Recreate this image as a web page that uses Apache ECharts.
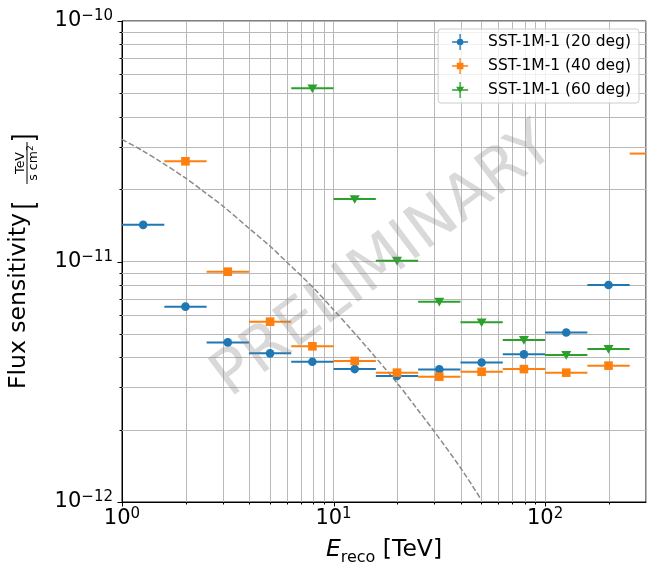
<!DOCTYPE html>
<html><head><meta charset="utf-8">
<script src="https://cdn.jsdelivr.net/npm/echarts@6/dist/echarts.min.js"></script>
<style>html,body{margin:0;padding:0;background:#fff}#c{width:651px;height:572px}</style>
</head><body><div id="c"></div>
<script>
// ---- data ----
const BIN_LO     = [1.000, 1.585, 2.512, 3.981, 6.310, 10.00, 15.85, 25.12, 39.81, 63.10, 100.0, 158.5, 251.2];
const BIN_HI     = [1.585, 2.512, 3.981, 6.310, 10.00, 15.85, 25.12, 39.81, 63.10, 100.0, 158.5, 251.2, 398.1];
const BIN_CENTER = [1.259, 1.995, 3.162, 5.012, 7.943, 12.59, 19.95, 31.62, 50.12, 79.43, 125.9, 199.5, 316.2];
const SENS_20 = [1.42e-11, 6.49e-12, 4.61e-12, 4.15e-12, 3.83e-12, 3.57e-12, 3.34e-12, 3.56e-12, 3.80e-12, 4.11e-12, 5.07e-12, 7.98e-12, null];
const SENS_40 = [null, 2.61e-11, 9.07e-12, 5.62e-12, 4.44e-12, 3.86e-12, 3.45e-12, 3.32e-12, 3.48e-12, 3.57e-12, 3.45e-12, 3.69e-12, 2.81e-11];
const SENS_60 = [null, null, null, null, 5.25e-11, 1.82e-11, 1.008e-11, 6.81e-12, 5.59e-12, 4.72e-12, 4.09e-12, 4.33e-12, null];
const CRAB_E    = [1, 1.25, 1.5, 2, 2.5, 3, 4, 5, 6, 8, 10, 12, 15, 20, 25, 30, 40, 50];
const CRAB_FLUX = [3.22e-11, 2.89e-11, 2.62e-11, 2.22e-11, 1.92e-11, 1.70e-11, 1.37e-11, 1.16e-11, 9.96e-12, 7.8e-12, 6.3e-12, 5.27e-12, 4.21e-12, 3.12e-12, 2.42e-12, 1.96e-12, 1.38e-12, 1.02e-12];
const SERIES_NAMES = ['SST-1M-1 (20 deg)', 'SST-1M-1 (40 deg)', 'SST-1M-1 (60 deg)'];
const X_MAJOR = [1, 10, 100];
const X_MINOR = [2, 3, 4, 5, 6, 7, 8, 9, 20, 30, 40, 50, 60, 70, 80, 90, 200];
const Y_MAJOR = [1e-12, 1e-11, 1e-10];
const Y_MINOR = [2e-12, 3e-12, 4e-12, 5e-12, 6e-12, 7e-12, 8e-12, 9e-12, 2e-11, 3e-11, 4e-11, 5e-11, 6e-11, 7e-11, 8e-11, 9e-11];
const X_MIN = 1, X_MAX = 300, Y_MIN = 1e-12, Y_MAX = 1e-10;

// ---- styling ----
const FONT = 'DejaVu Sans';
const COLORS = ['#1f77b4', '#ff7f0e', '#2ca02c'];
const SHAPES = ['circle', 'square', 'triangle'];
const GRID_COLOR = '#b9b9b9';

function markerEl(shape, x, y, color) {
  if (shape === 'circle') return {type: 'circle', shape: {cx: x, cy: y, r: 4.3}, style: {fill: color}};
  if (shape === 'square') return {type: 'rect', shape: {x: x - 4.3, y: y - 4.3, width: 8.6, height: 8.6}, style: {fill: color}};
  return {type: 'polygon', shape: {points: [[x - 5, y - 3.8], [x + 5, y - 3.8], [x, y + 4.8]]}, style: {fill: color}};
}
function errRender(shape, color) {
  return function (params, api) {
    const cs = params.coordSys;
    const y = api.value(2);
    const a = api.coord([api.value(0), y]);
    const b = api.coord([api.value(1), y]);
    const c = api.coord([api.value(3), y]);
    const left = cs.x, right = cs.x + cs.width;
    const x1 = Math.max(a[0], left), x2 = Math.min(b[0], right);
    const children = [];
    if (x2 > x1) children.push({type: 'line', shape: {x1: x1, y1: c[1], x2: x2, y2: c[1]}, style: {stroke: color, lineWidth: 2}});
    if (c[0] >= left && c[0] <= right) children.push(markerEl(shape, c[0], c[1], color));
    return {type: 'group', children: children};
  };
}
function errData(vals) {
  const out = [];
  vals.forEach((v, i) => { if (v != null) out.push([BIN_LO[i], BIN_HI[i], v, BIN_CENTER[i]]); });
  return out;
}
function xTickRender(params, api) {
  const cs = params.coordSys;
  const p = api.coord([api.value(0), api.value(1)]);
  const major = api.value(2) === 1;
  const x = Math.round(p[0]) + 0.5;
  const bottom = cs.y + cs.height;
  const ch = [];
  if (!major) ch.push({type: 'line', shape: {x1: x, y1: cs.y, x2: x, y2: bottom}, style: {stroke: GRID_COLOR, lineWidth: 1}});
  ch.push({type: 'line', shape: {x1: x, y1: bottom, x2: x, y2: bottom + (major ? 4.5 : 2.5)}, style: {stroke: '#000', lineWidth: 1}});
  return {type: 'group', children: ch};
}
function yTickRender(params, api) {
  const cs = params.coordSys;
  const p = api.coord([api.value(0), api.value(1)]);
  const major = api.value(2) === 1;
  const y = Math.round(p[1]) + 0.5;
  const left = cs.x;
  const ch = [];
  if (!major) ch.push({type: 'line', shape: {x1: left, y1: y, x2: left + cs.width, y2: y}, style: {stroke: GRID_COLOR, lineWidth: 1}});
  ch.push({type: 'line', shape: {x1: left - (major ? 4.5 : 2.5), y1: y, x2: left, y2: y}, style: {stroke: '#000', lineWidth: 1}});
  return {type: 'group', children: ch};
}
function powLabel(v) {
  const l = Math.log10(v), e = Math.round(l);
  if (Math.abs(l - e) > 1e-6) return '';
  return '{b|10}{s|' + (e < 0 ? '\u2212' : '') + Math.abs(e) + '}';
}
const LABEL_RICH = {
  b: {fontSize: 21, lineHeight: 24, fontFamily: FONT, color: '#000'},
  s: {fontSize: 15, lineHeight: 14, verticalAlign: 'top', fontFamily: FONT, color: '#000'}
};
const ICONS = [
  'path://M0 11 H24 V13 H0 Z M11 0 H13 V24 H11 Z M12 7 A5 5 0 1 1 12 17 A5 5 0 1 1 12 7 Z',
  'path://M0 11 H24 V13 H0 Z M11 0 H13 V24 H11 Z M7 7 H17 V17 H7 Z',
  'path://M0 11 H24 V13 H0 Z M11 0 H13 V24 H11 Z M6 7 H18 L12 17 Z'
];

const chart = echarts.init(document.getElementById('c'), null, {renderer: 'canvas'});
const option = {
  animation: false,
  color: COLORS,
  textStyle: {fontFamily: FONT},
  grid: {left: 122, right: 5, top: 21, bottom: 70, show: true, borderColor: '#000', borderWidth: 1, backgroundColor: '#fff', outerBoundsMode: 'none', containLabel: false},
  xAxis: {
    type: 'log', logBase: 10, min: X_MIN, max: X_MAX,
    axisLine: {show: true, lineStyle: {color: '#000', width: 1}},
    axisTick: {show: false},
    splitLine: {show: true, lineStyle: {color: GRID_COLOR, width: 1}},
    axisLabel: {margin: 5, formatter: powLabel, rich: LABEL_RICH, color: '#000', showMinLabel: true, showMaxLabel: true, hideOverlap: false},
    name: '{i|E}{sub|reco}{n| [TeV]}',
    nameLocation: 'middle', nameGap: 32,
    nameTextStyle: {color: '#000', rich: {
      i: {fontSize: 23.5, fontStyle: 'italic', lineHeight: 32, fontFamily: FONT, color: '#000'},
      sub: {fontSize: 16, lineHeight: 16, verticalAlign: 'bottom', fontFamily: FONT, color: '#000'},
      n: {fontSize: 23.5, lineHeight: 32, fontFamily: FONT, color: '#000'}
    }}
  },
  yAxis: {
    type: 'log', logBase: 10, min: Y_MIN, max: Y_MAX,
    axisLine: {show: true, lineStyle: {color: '#000', width: 1}},
    axisTick: {show: false},
    splitLine: {show: true, lineStyle: {color: GRID_COLOR, width: 1}},
    axisLabel: {margin: 9, formatter: powLabel, rich: LABEL_RICH, color: '#000', showMinLabel: true, showMaxLabel: true, hideOverlap: false}
  },
  legend: {
    orient: 'vertical', right: 12, top: 29, z: 20,
    itemWidth: 16, itemHeight: 16, itemGap: 8,
    padding: [5, 8, 5, 14],
    backgroundColor: 'rgba(255,255,255,0.8)', borderColor: '#cccccc', borderWidth: 1, borderRadius: 3,
    selectedMode: false,
    textStyle: {fontSize: 15.5, color: '#000', fontFamily: FONT, padding: [0, 0, 0, 15]},
    data: SERIES_NAMES.map((n, i) => ({name: n, icon: ICONS[i]}))
  },
  series: [
    {type: 'custom', name: 'xticks', silent: true, z: 1, renderItem: xTickRender, encode: {x: 0, y: 1},
      data: X_MAJOR.map(v => [v, Y_MIN, 1]).concat(X_MINOR.map(v => [v, Y_MIN, 0]))},
    {type: 'custom', name: 'yticks', silent: true, z: 1, renderItem: yTickRender, encode: {x: 0, y: 1},
      data: Y_MAJOR.map(v => [X_MIN, v, 1]).concat(Y_MINOR.map(v => [X_MIN, v, 0]))},
    {type: 'line', name: 'crab', silent: true, z: 2, smooth: 0.3, symbol: 'none',
      lineStyle: {color: '#8a8a8a', width: 1.5, type: [5.5, 2.4]},
      data: CRAB_E.map((e, i) => [e, CRAB_FLUX[i]])},
    {type: 'custom', name: SERIES_NAMES[0], z: 3, itemStyle: {color: COLORS[0]}, renderItem: errRender(SHAPES[0], COLORS[0]), encode: {x: [0, 1, 3], y: 2}, data: errData(SENS_20)},
    {type: 'custom', name: SERIES_NAMES[1], z: 4, itemStyle: {color: COLORS[1]}, renderItem: errRender(SHAPES[1], COLORS[1]), encode: {x: [0, 1, 3], y: 2}, data: errData(SENS_40)},
    {type: 'custom', name: SERIES_NAMES[2], z: 5, itemStyle: {color: COLORS[2]}, renderItem: errRender(SHAPES[2], COLORS[2]), encode: {x: [0, 1, 3], y: 2}, data: errData(SENS_60)}
  ],
  graphic: [
    {type: 'group', x: 19, y: 263, rotation: Math.PI / 2, z: 50, silent: true, children: [
      {type: 'text', x: -126, y: 0, style: {text: 'Flux sensitivity', fontSize: 23.5, fontFamily: FONT, fill: '#000', align: 'left', verticalAlign: 'middle'}},
      {type: 'polyline', shape: {points: [[60, -7], [56.5, -7], [56.5, 18], [60, 18]]}, style: {stroke: '#000', lineWidth: 1.8, fill: null}},
      {type: 'text', x: 100, y: 1.5, style: {text: 'TeV', fontSize: 12.5, fontFamily: FONT, fill: '#000', align: 'center', verticalAlign: 'middle'}},
      {type: 'line', shape: {x1: 79, y1: 8, x2: 121, y2: 8}, style: {stroke: '#000', lineWidth: 1}},
      {type: 'text', x: 100, y: 14.5, style: {text: '{d|s cm}{p|2}', align: 'center', verticalAlign: 'middle',
        rich: {d: {fontSize: 12.5, lineHeight: 14, fontFamily: FONT, fill: '#000'}, p: {fontSize: 9, lineHeight: 9, verticalAlign: 'top', fontFamily: FONT, fill: '#000'}}}},
      {type: 'polyline', shape: {points: [[123, -7], [126.5, -7], [126.5, 18], [123, 18]]}, style: {stroke: '#000', lineWidth: 1.8, fill: null}}
    ]},
    {type: 'text', x: 384, y: 262, rotation: 0.646, z: 100, silent: true,
      style: {text: 'PRELIMINARY', fontSize: 62, fontFamily: FONT, fill: 'rgba(128,128,128,0.3)', align: 'center', verticalAlign: 'middle'}}
  ]
};
chart.setOption(option);
</script></body></html>
